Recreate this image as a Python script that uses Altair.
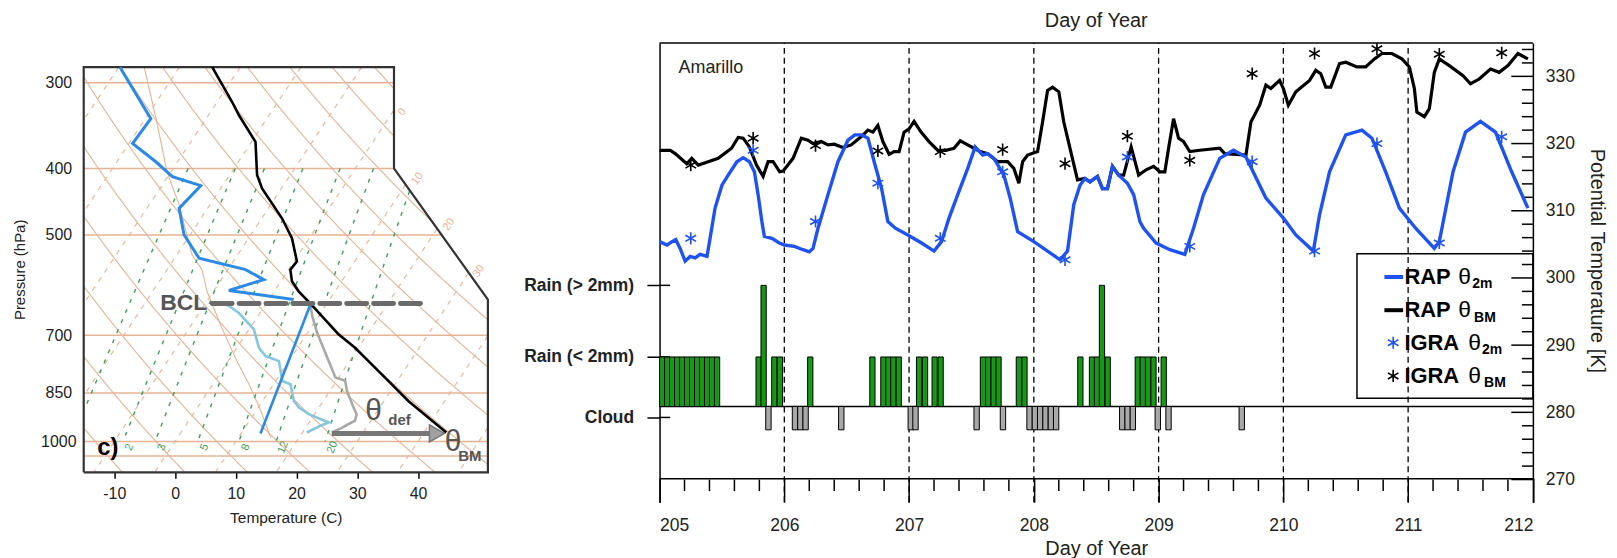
import numpy as np
import pandas as pd
import altair as alt

FONT = "Liberation Sans"
TAN = "#e6b395"
MIXG = "#3f9f5a"
BLUE_RAP = "#1f52f2"
GREEN = "#169a16"
GREY_BAR = "#a8a8a8"

# ===================== RIGHT PANEL DATA =====================
rap_theta_2m = [(205.00,305.4),(205.06,304.9),(205.10,305.4),(205.13,305.7),(205.165,304.4),(205.205,302.5),
    (205.245,303.2),(205.285,303.0),(205.325,303.5),(205.38,303.2),(205.405,305.9),(205.445,310.4),(205.50,313.8),
    (205.55,315.3),(205.62,317.3),(205.67,317.9),(205.72,317.3),(205.76,315.8),(205.79,312.4),(205.82,308.4),
    (205.84,306.2),(205.90,305.9),(205.96,305.2),(206.00,304.9),(206.08,304.7),(206.15,304.2),(206.20,303.9),
    (206.23,304.4),(206.27,307.4),(206.35,312.4),(206.43,317.3),(206.51,320.5),(206.565,321.3),(206.62,321.3),
    (206.67,320.8),(206.72,317.3),(206.78,313.3),(206.83,308.4),(206.89,307.4),(206.99,306.4),(207.10,305.2),
    (207.20,304.0),(207.26,305.4),(207.32,308.9),(207.39,312.4),(207.47,316.3),(207.53,319.5),(207.59,318.3),
    (207.63,318.5),(207.68,317.8),(207.76,315.3),(207.81,311.9),(207.87,306.9),(208.00,305.4),(208.11,304.0),
    (208.21,302.7),(208.27,304.0),(208.32,310.9),(208.37,313.8),(208.41,314.8),(208.45,314.3),(208.51,315.1),
    (208.55,313.3),(208.59,313.3),(208.63,316.6),(208.68,315.3),(208.75,314.1),(208.80,312.4),(208.85,308.4),
    (208.88,307.4),(208.98,305.2),(209.09,304.2),(209.21,303.5),(209.28,307.4),(209.36,312.4),(209.49,317.8),
    (209.60,319.0),(209.70,318.0),(209.86,311.9),(210.00,308.9),(210.10,306.4),(210.24,304.0),(210.29,309.4),
    (210.37,315.8),(210.50,321.3),(210.63,322.0),(210.71,320.8),(210.82,315.8),(210.93,310.4),(211.06,307.4),
    (211.21,304.4),(211.25,305.4),(211.36,315.8),(211.46,321.7),(211.58,323.3),(211.70,321.7),(211.83,315.8),
    (211.96,310.4)]

rap_theta_bm = [(205.00,319.0),(205.085,319.0),(205.125,318.5),(205.218,317.0),(205.258,317.8),(205.31,316.8),
    (205.39,317.3),(205.47,317.8),(205.577,319.3),(205.63,320.9),(205.67,320.8),(205.72,319.5),(205.777,316.8),
    (205.83,315.1),(205.87,317.3),(205.91,317.3),(205.963,315.8),(205.99,315.9),(206.07,317.8),(206.136,320.8),
    (206.19,320.5),(206.23,320.0),(206.296,320.3),(206.35,319.8),(206.40,319.9),(206.47,319.4),(206.536,319.8),
    (206.615,321.0),(206.67,322.0),(206.71,321.7),(206.75,322.7),(206.79,320.3),(206.84,318.4),(206.88,318.8),
    (206.92,318.8),(206.96,321.7),(207.00,322.2),(207.04,323.3),(207.096,321.7),(207.16,320.3),(207.23,319.0),
    (207.294,319.0),(207.36,319.3),(207.41,320.4),(207.47,319.8),(207.52,319.3),(207.57,318.8),(207.63,318.5),
    (207.71,317.3),(207.79,317.3),(207.84,316.3),(207.88,314.1),(207.91,317.3),(207.95,318.3),(208.03,318.8),
    (208.07,323.2),(208.11,327.9),(208.15,328.4),(208.20,327.7),(208.24,323.2),(208.29,319.3),(208.35,314.6),
    (208.41,314.8),(208.45,314.3),(208.51,315.1),(208.55,313.3),(208.59,313.3),(208.63,316.6),(208.68,315.3),
    (208.72,315.3),(208.78,319.5),(208.84,315.3),(208.90,316.1),(208.96,316.6),(209.01,315.8),(209.05,315.8),
    (209.08,319.3),(209.12,323.7),(209.16,320.8),(209.20,320.3),(209.25,318.8),(209.33,319.0),(209.49,319.3),
    (209.53,318.5),(209.70,318.3),(209.74,323.2),(209.81,325.7),(209.86,328.7),(209.90,328.2),(209.97,329.4),
    (210.00,328.2),(210.04,325.7),(210.10,327.7),(210.21,329.4),(210.26,330.9),(210.30,330.4),(210.34,328.4),
    (210.38,328.4),(210.45,331.9),(210.50,332.1),(210.59,331.4),(210.66,331.4),(210.73,332.6),(210.79,333.4),
    (210.87,333.4),(210.95,332.6),(211.01,331.4),(211.05,328.2),(211.07,324.7),(211.13,324.0),(211.17,325.2),
    (211.21,330.6),(211.25,332.6),(211.33,331.6),(211.44,330.1),(211.50,328.9),(211.57,329.6),(211.66,331.1),
    (211.73,330.6),(211.80,331.6),(211.88,333.4),(211.96,332.6)]

igra_day = [205.25, 205.75, 206.25, 206.75, 207.25, 207.75, 208.25, 208.75, 209.25, 209.75, 210.25, 210.75, 211.25, 211.75]
igra_theta_2m = [305.9, 319.0, 308.4, 314.1, 305.9, 315.8, 302.7, 318.0, 304.7, 317.3, 304.0, 320.0, 305.2, 321.0]
igra_theta_bm = [316.8, 320.8, 319.7, 318.9, 318.8, 319.1, 317.0, 321.1, 317.5, 330.4, 333.4, 334.1, 333.3, 333.5]

rain_small_start = [205.000, 205.040, 205.080, 205.120, 205.160, 205.200, 205.240, 205.280, 205.320, 205.360,
    205.400, 205.440, 205.773, 205.899, 205.944, 206.187, 206.685, 206.773, 206.813, 206.853, 206.896, 207.059,
    207.107, 207.184, 207.232, 207.571, 207.613, 207.656, 207.696, 207.859, 207.904, 208.352, 208.445, 208.485,
    208.571, 208.812, 208.852, 208.895, 208.938, 209.020]
rain_large_start = [205.813, 208.525]
cloud_start = [205.851, 206.064, 206.107, 206.149, 206.435, 206.992, 207.030, 207.520, 207.731, 207.944, 207.987,
    208.029, 208.072, 208.115, 208.157, 208.687, 208.730, 208.772, 208.972, 209.058, 209.645]

day_ticks = [205, 206, 207, 208, 209, 210, 211, 212]
day_lines = [206, 207, 208, 209, 210, 211]
theta_ticks = [270, 280, 290, 300, 310, 320, 330]
theta_minor = list(range(270, 336, 2))
day_minor = [round(205 + 0.2 * i, 1) for i in range(1, 35) if i % 5 != 0]

# ===================== LEFT PANEL DATA (skew-T) =====================
pressure_labels = [300, 400, 500, 700, 850, 1000]
temp_labels = [-10, 0, 10, 20, 30, 40]
pressure_lines = [300, 400, 500, 700, 850, 1000, 1050]
isotherm_values = list(range(-100, 60, 10))
dry_theta_values = list(range(240, 400, 10))
mix_ratio_values = [1, 2, 3, 5, 8, 12, 20]
mix_ratio_labels = [2, 3, 5, 8, 12, 20]
isotherm_label_text = ["0", "10", "20", "30"]
isotherm_label_T = [37.4, 39.9, 45.1, 50.0]
isotherm_label_p = [331, 414, 483, 565]
std_atmosphere = [(-5.08, 284.8), (-3.12, 338.6), (-1.31, 404.9), (0.66, 451.7), (2.79, 533.9), (4.43, 561.8),
    (5.25, 604.2), (7.71, 683.6), (10.17, 763.6), (12.14, 824.4), (14.11, 902.4), (15.75, 987.7)]
sounding_upper = [(-9.07, 284.7), (-3.99, 338.4), (-7.0, 367.9), (-3.17, 391.1), (-0.44, 411.2), (4.22, 423.8),
    (0.66, 457.3), (1.48, 499.7), (3.94, 540.5), (11.6, 561.8), (14.6, 580.9), (8.86, 602.6), (19.52, 621.1)]
mixing_line = [(22.26, 632.0), (14.06, 973.6)]
light_blue_profile = [(8.32, 630.0), (10.52, 649.8), (12.98, 686.6), (13.8, 730.1), (14.9, 750.8), (17.1, 763.6),
    (17.65, 816.3), (19.0, 825.4), (19.56, 873.1), (20.4, 892.6), (22.0, 912.5), (25.3, 938.4), (23.9, 948.9),
    (21.7, 970.4)]
grey_profile = [(22.26, 632.0), (22.6, 657.0), (23.3, 691.0), (25.3, 764.0), (26.4, 807.0), (28.0, 816.0),
    (28.3, 844.0), (29.4, 893.0), (29.9, 913.0), (29.6, 933.0), (28.5, 944.0), (27.3, 957.0), (26.0, 968.0)]
black_profile = [(6.12, 284.7), (9.4, 320.0), (10.52, 334.6), (13.24, 365.8), (13.5, 408.9), (14.32, 427.6),
    (17.6, 472.8), (19.24, 505.5), (20.06, 546.4), (18.98, 561.8), (19.24, 584.2), (20.34, 604.2), (22.26, 629.0),
    (26.9, 698.0), (29.63, 730.1), (31.3, 755.6), (35.1, 816.0), (36.74, 844.1), (38.4, 873.0), (44.66, 970.4)]
bcl_p = 629.4
bcl_T = (6.12, 40.84)
theta_arrow_p = 973.6
theta_arrow_T = (25.8, 42.2)

# ===================== SKEW-T GEOMETRY =====================
SKEW = 32.4
PTOP, PBOT = 284.7, 1109.2
TL, TR = -15.04, 51.5
WL, HL = 405.7, 431
MIX_LABEL_SHIFT = 1.5   # label sits just right of its mixing-ratio line


def skew_x(T, p):
    return T + SKEW * np.log(1000.0 / np.asarray(p, float))


def x_right(p):
    p = np.asarray(p, float)
    return np.where(p <= 400, 36.04,
                    np.where(p >= 621, 51.5, 36.04 + (51.5 - 36.04) * np.log(p / 400.0) / np.log(621 / 400.0)))


pp = np.exp(np.linspace(np.log(PTOP), np.log(PBOT), 700))


def clip_rows(x, p, lid):
    m = (x >= TL) & (x <= x_right(p)) & (p >= PTOP) & (p <= PBOT)
    return [dict(id=lid, x=float(a), p=float(b), i=k) for k, (a, b) in enumerate(zip(x[m], p[m]))]


iso_rows, dry_rows, mix_rows, pl_rows = [], [], [], []
for T in isotherm_values:
    iso_rows += clip_rows(skew_x(T, pp), pp, f"T{T}")
for th in dry_theta_values:
    Tc = th * (pp / 1000.0) ** 0.286 - 273.15
    dry_rows += clip_rows(skew_x(Tc, pp), pp, f"th{th}")


def dewpoint(w, p):
    e = w * p / (622.0 + w)
    a = np.log(e / 6.112)
    return 243.5 * a / (17.67 - a)


pm = np.exp(np.linspace(np.log(400), np.log(1000), 300))
for w in mix_ratio_values:
    mix_rows += clip_rows(skew_x(dewpoint(w, pm), pm), pm, f"w{w}")
for pl in pressure_lines:
    pl_rows += [dict(id=f"p{pl}", x=TL, p=pl, i=0), dict(id=f"p{pl}", x=float(x_right(pl)), p=pl, i=1)]

mixlab_df = pd.DataFrame({"x": [float(skew_x(dewpoint(w, 1020.0), 1020.0)) + MIX_LABEL_SHIFT
                                for w in mix_ratio_labels],
                          "p": [1020.0] * len(mix_ratio_labels), "t": [str(w) for w in mix_ratio_labels]})

sT = alt.Scale(domain=[TL, TR], nice=False, zero=False)
sP = alt.Scale(type="log", domain=[262.42, PBOT], reverse=True, nice=False)


def XL(field="x", axis=None):
    return alt.X(f"{field}:Q", scale=sT, axis=axis)


def YL(field="p", axis=None):
    return alt.Y(f"{field}:Q", scale=sP, axis=axis)


def pts_df(pts):
    return pd.DataFrame({"x": [a for a, b in pts], "p": [b for a, b in pts], "i": list(range(len(pts)))})


def lline(df, color, width, dash=None, detail=False, **kw):
    mk = dict(color=color, strokeWidth=width, **kw)
    if dash:
        mk["strokeDash"] = dash
    enc = dict(x=XL(), y=YL(), order="i:Q")
    if detail:
        enc["detail"] = "id:N"
    return alt.Chart(df).mark_line(**mk).encode(**enc)


def ltext(T, p, txt, **kw):
    return alt.Chart(pd.DataFrame({"x": [T], "p": [p], "t": [txt]})).mark_text(font=FONT, **kw).encode(
        x=XL(), y=YL(), text="t:N")


x_axis_left = alt.Axis(orient="bottom", values=temp_labels, tickSize=6, tickColor="black", tickWidth=1.5,
                       domain=False, grid=False, labelFontSize=16, labelFont=FONT, labelColor="#222",
                       labelPadding=7, labelExpr="'' + datum.value", title="Temperature (C)", titleFont=FONT,
                       titleFontSize=15.5, titleFontWeight="normal", titleColor="#222", titlePadding=9)
y_axis_left = alt.Axis(orient="left", values=pressure_labels, ticks=False, tickSize=0, domain=False, grid=False,
                       labelAlign="center", labelPadding=25.5, labelFontSize=16, labelFont=FONT, labelColor="#222",
                       labelExpr="'' + datum.value", title="Pressure (hPa)", titleFont=FONT, titleFontSize=15,
                       titleFontWeight="normal", titleColor="#222", titleX=-64.3, titleY=227.3, titleAngle=270,
                       titleBaseline="middle", titleAlign="center")

plines = alt.Chart(pd.DataFrame(pl_rows)).mark_line(color=TAN, strokeWidth=1.5).encode(
    x=XL(axis=x_axis_left), y=YL(axis=y_axis_left), detail="id:N", order="i:Q")

frame_pts = [(TL, PBOT), (TL, PTOP), (36.04, PTOP), (36.04, 400), (51.5, 621), (51.5, PBOT), (TL, PBOT)]

left_layers = [
    plines,
    lline(pd.DataFrame(iso_rows), TAN, 1.1, dash=[5, 6], detail=True),
    lline(pd.DataFrame(dry_rows), TAN, 1.1, detail=True),
    lline(pts_df(std_atmosphere), TAN, 1.1),
    lline(pd.DataFrame(mix_rows), MIXG, 1.4, dash=[4, 7], detail=True),
    alt.Chart(mixlab_df).mark_text(font=FONT, fontSize=11, color=MIXG, angle=292, align="center",
                                   baseline="middle").encode(x=XL(), y=YL(), text="t:N"),
    alt.Chart(pd.DataFrame({"x": isotherm_label_T, "p": isotherm_label_p, "t": isotherm_label_text})).mark_text(
        font=FONT, fontSize=11, color=TAN, angle=305, align="center", baseline="middle").encode(
        x=XL(), y=YL(), text="t:N"),
    lline(pts_df(frame_pts), "#333333", 2.2),
    lline(pts_df(light_blue_profile), "#86c7de", 2.6),
    lline(pts_df(grey_profile), "#a9a9a9", 2.6),
    lline(pts_df(black_profile), "black", 2.6),
    lline(pts_df(sounding_upper), "#2b8ae6", 3.0),
    lline(pts_df(mixing_line), "#2b8ae6", 2.6),
    alt.Chart(pd.DataFrame({"x": [bcl_T[0]], "x2": [bcl_T[1]], "p": [bcl_p]})).mark_rule(
        color="#6b6b6b", strokeWidth=5, strokeDash=[20, 7], strokeCap="round").encode(x=XL(), x2="x2:Q", y=YL()),
    alt.Chart(pd.DataFrame({"x": [theta_arrow_T[0]], "x2": [theta_arrow_T[1]], "p": [theta_arrow_p]})).mark_rule(
        color="#777777", strokeWidth=5).encode(x=XL(), x2="x2:Q", y=YL()),
    alt.Chart(pd.DataFrame({"x": [43.1], "p": [theta_arrow_p]})).mark_point(
        shape="triangle-right", filled=True, size=300, fill="#a0a0a0", stroke="#777777", strokeWidth=1.5,
        opacity=1).encode(x=XL(), y=YL()),
    ltext(5.3, bcl_p, "BCL", fontSize=23, fontWeight="bold", color="#555555", align="right", baseline="middle"),
    ltext(31.3, 902.4, "θ", fontSize=30, color="#555555", align="left", baseline="middle"),
    ltext(35.1, 932.2, "def", fontSize=15, fontWeight="bold", color="#555555", align="left", baseline="middle"),
    ltext(44.4, 1003.0, "θ", fontSize=30, color="#555555", align="left", baseline="middle"),
    ltext(46.6, 1049.0, "BM", fontSize=15, fontWeight="bold", color="#555555", align="left", baseline="middle"),
    ltext(-12.8, 1021.0, "c)", fontSize=24, fontWeight="bold", color="black", align="left", baseline="middle"),
    alt.Chart(pd.DataFrame({"t": ["Day of Year"]})).mark_text(font=FONT, fontSize=20, color="white").encode(
        x=alt.value(WL / 2), y=alt.value(-22), text="t:N"),
]
left = alt.layer(*left_layers).resolve_axis(x="independent", y="independent").properties(width=WL, height=HL)

# ===================== RIGHT PANEL =====================
DX = [205, 212]
DK = [266.63, 334.98]
WR, HR = 876.6, 461
K_BASE, K_RAIN_LT, K_RAIN_GT, K_CLOUD = 280.87, 288.24, 298.9, 277.4
rain_axis_vals = [279.24, 288.24, 298.9]
sx = alt.Scale(domain=DX, nice=False, zero=False)
sk = alt.Scale(domain=DK, nice=False, zero=False)


def RX(f, axis=None):
    return alt.X(f"{f}:Q", scale=sx, axis=axis)


def RY(f, axis=None):
    return alt.Y(f"{f}:Q", scale=sk, axis=axis)


def hrule(k, d0, d1, color="black", width=1.5):
    df = pd.DataFrame({"k": k, "d0": d0, "d1": d1})
    return alt.Chart(df).mark_rule(color=color, strokeWidth=width).encode(x=RX("d0"), x2="d1:Q", y=RY("k"))


def rtext(d, k, txt, **kw):
    return alt.Chart(pd.DataFrame({"d": [d], "k": [k], "t": [txt]})).mark_text(font=FONT, **kw).encode(
        x=RX("d"), y=RY("k"), text="t:N")


bars = pd.DataFrame(
    [dict(d0=s, d1=s + 0.042, k0=K_BASE, k1=K_RAIN_LT, kind="rain") for s in rain_small_start]
    + [dict(d0=s, d1=s + 0.042, k0=K_BASE, k1=K_RAIN_GT, kind="rain") for s in rain_large_start]
    + [dict(d0=s, d1=s + 0.043, k0=K_BASE, k1=K_CLOUD, kind="cloud") for s in cloud_start])

rain_axis = alt.Axis(orient="left", values=rain_axis_vals, tickSize=12.7, tickColor="black", tickWidth=1.5,
                     domain=True, domainColor="black", domainWidth=1.5, grid=False, labelPadding=13.3,
                     labelFont=FONT, labelFontSize=17.5, labelFontWeight="bold", labelColor="#222",
                     labelExpr="datum.value > 295 ? 'Rain (> 2mm)' : (datum.value > 284 ? 'Rain (< 2mm)' : 'Cloud')",
                     title=None)
theta_axis = alt.Axis(orient="right", values=theta_ticks, ticks=False, tickSize=0, domain=True, domainColor="black",
                      domainWidth=1.5, grid=False, labelPadding=12.4, labelFont=FONT, labelFontSize=17.6,
                      labelColor="#222", title="Potential Temperature [K]", titleFont=FONT, titleFontSize=20,
                      titleFontWeight="normal", titleColor="#222", titleAngle=90, titleX=63.7, titleY=218.3,
                      titleBaseline="middle", titleAlign="center")
day_axis = alt.Axis(orient="bottom", values=day_ticks, offset=-24, tickSize=24, tickColor="black", tickWidth=1.5,
                    domain=True, domainColor="black", domainWidth=1.5, grid=False, labelPadding=14, labelFont=FONT,
                    labelFontSize=17.6, labelColor="#222", title="Day of Year", titleFont=FONT, titleFontSize=20,
                    titleFontWeight="normal", titleColor="#222", titlePadding=5)

ASTER = "M0,-1L0,1M-0.87,-0.5L0.87,0.5M-0.87,0.5L0.87,-0.5"

vlines = alt.Chart(pd.DataFrame({"d": day_lines, "k0": DK[0], "k1": DK[1]})).mark_rule(
    color="black", strokeWidth=1.3, strokeDash=[6, 4]).encode(x=RX("d"), y=RY("k0"), y2="k1:Q")
minor_bottom = alt.Chart(pd.DataFrame({"d": day_minor, "k0": 270.0, "k1": 268.28})).mark_rule(
    color="black", strokeWidth=1.5).encode(x=RX("d"), y=RY("k0"), y2="k1:Q")
right_ticks = hrule([k for k in theta_minor],
                    [212.0] * len(theta_minor),
                    [212 - (0.173 if k % 10 == 0 else 0.088) for k in theta_minor])
left_stubs = hrule(rain_axis_vals, [205.0] * 3, [205.085] * 3)
top_line = hrule([DK[1]], [205.0], [212.0])
base_line = hrule([K_BASE], [205.0], [212.0])

bar_layer = alt.Chart(bars).mark_rect(stroke="black", strokeWidth=1).encode(
    x=RX("d0"), x2="d1:Q", y=RY("k0", axis=rain_axis), y2="k1:Q",
    color=alt.Color("kind:N", scale=alt.Scale(domain=["rain", "cloud"], range=[GREEN, GREY_BAR]), legend=None))

bm_df = pd.DataFrame(rap_theta_bm, columns=["d", "k"]).assign(i=lambda x: range(len(x)))
m2_df = pd.DataFrame(rap_theta_2m, columns=["d", "k"]).assign(i=lambda x: range(len(x)))
bm_line = alt.Chart(bm_df).mark_line(color="black", strokeWidth=3.2).encode(x=RX("d"), y=RY("k"), order="i:Q")
m2_line = alt.Chart(m2_df).mark_line(color=BLUE_RAP, strokeWidth=3.4).encode(
    x=RX("d", axis=day_axis), y=RY("k", axis=theta_axis), order="i:Q")

igra_df = pd.DataFrame({"d": igra_day, "k2m": igra_theta_2m, "kbm": igra_theta_bm})
igra_bm_pts = alt.Chart(igra_df).mark_point(shape=ASTER, filled=False, size=150, strokeWidth=1.6, color="black",
                                            opacity=1).encode(x=RX("d"), y=RY("kbm"))
igra_2m_pts = alt.Chart(igra_df).mark_point(shape=ASTER, filled=False, size=150, strokeWidth=1.6, color=BLUE_RAP,
                                            opacity=1).encode(x=RX("d"), y=RY("k2m"))

# legend (manual, inside the plot)
LEG_ROWS = [300.14, 295.2, 290.36, 285.42]
legend_box = alt.Chart(pd.DataFrame({"d0": [210.59], "d1": [212.0], "k0": [282.11], "k1": [303.61]})).mark_rect(
    fillOpacity=0, stroke="black", strokeWidth=1.5).encode(x=RX("d0"), x2="d1:Q", y=RY("k0"), y2="k1:Q")
leg_lines = [hrule([LEG_ROWS[0]], [210.81], [210.96], color=BLUE_RAP, width=4),
             hrule([LEG_ROWS[1]], [210.81], [210.96], color="black", width=4)]
leg_ast = [alt.Chart(pd.DataFrame({"d": [210.88], "k": [LEG_ROWS[2]]})).mark_point(
               shape=ASTER, filled=False, size=150, strokeWidth=1.6, color=BLUE_RAP, opacity=1).encode(
               x=RX("d"), y=RY("k")),
           alt.Chart(pd.DataFrame({"d": [210.88], "k": [LEG_ROWS[3]]})).mark_point(
               shape=ASTER, filled=False, size=150, strokeWidth=1.6, color="black", opacity=1).encode(
               x=RX("d"), y=RY("k"))]
leg_text = []
for row, name, sub, dth, dsub in [(0, "RAP", "2m", 54, 68), (1, "RAP", "BM", 54, 70),
                                  (2, "IGRA", "2m", 64, 78), (3, "IGRA", "BM", 64, 80)]:
    leg_text += [
        rtext(210.97, LEG_ROWS[row], name, fontSize=22, fontWeight="bold", color="black", align="left",
              baseline="middle"),
        rtext(210.97, LEG_ROWS[row], "θ", fontSize=23, color="black", align="left", baseline="middle", dx=dth),
        rtext(210.97, LEG_ROWS[row], sub, fontSize=14, fontWeight="bold", color="black", align="left",
              baseline="middle", dx=dsub, dy=7.5),
    ]

right_layers = [vlines, top_line, base_line, minor_bottom, right_ticks, left_stubs, bar_layer, bm_line, m2_line,
                igra_bm_pts, igra_2m_pts, legend_box] + leg_lines + leg_ast + leg_text + [
    rtext(205.152, 331.28, "Amarillo", fontSize=18, color="#222", align="left", baseline="middle"),
    alt.Chart(pd.DataFrame({"t": ["Day of Year"]})).mark_text(font=FONT, fontSize=20, color="#222").encode(
        x=alt.value(WR / 2), y=alt.value(-22), text="t:N"),
]
right = alt.layer(*right_layers).resolve_axis(x="independent", y="independent").properties(width=WR, height=HR)

chart = alt.hconcat(left, right, spacing=30).configure_view(stroke=None).properties(
    padding={"left": 4, "top": 2, "right": 2, "bottom": 0}, background="white")

chart.save("out.html", embed_options={"renderer": "svg", "actions": False})
